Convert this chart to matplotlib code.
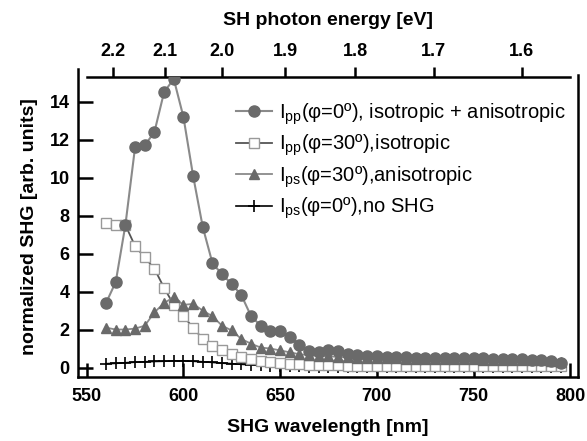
import numpy as np
import matplotlib
matplotlib.use("Agg")
import matplotlib.pyplot as plt

plt.rcParams['font.family'] = ['Liberation Sans', 'DejaVu Sans']
plt.rcParams['mathtext.default'] = 'regular'

# wavelengths [nm]
wl = np.arange(560, 800, 5)

# I_pp(phi=0), isotropic + anisotropic (filled circles)
ipp0 = [3.4, 4.5, 7.5, 11.6, 11.7, 12.4, 14.5, 15.2, 13.2, 10.1, 7.4, 5.5,
        4.9, 4.4, 3.8, 2.7, 2.2, 1.9, 1.9, 1.6, 1.2, 0.85,
        0.8, 0.9, 0.85, 0.7, 0.65, 0.6, 0.6, 0.55, 0.55, 0.55, 0.5, 0.5,
        0.5, 0.5, 0.5, 0.5, 0.5, 0.5, 0.45, 0.45, 0.45, 0.45, 0.4, 0.4,
        0.35, 0.25]

# I_pp(phi=30), isotropic (open squares)
ipp30 = [7.6, 7.5, 7.5, 6.4, 5.8, 5.2, 4.2, 3.3, 2.7, 2.1, 1.5, 1.15,
         0.9, 0.7, 0.55, 0.45, 0.35, 0.3, 0.25, 0.2, 0.2, 0.15,
         0.15, 0.12, 0.12, 0.1, 0.1, 0.1, 0.1, 0.1, 0.1, 0.1, 0.1, 0.1,
         0.1, 0.1, 0.1, 0.1, 0.1, 0.1, 0.1, 0.1, 0.1, 0.1, 0.1, 0.1,
         0.1, 0.1]

# I_ps(phi=30), anisotropic (filled triangles)
ips30 = [2.1, 2.0, 2.0, 2.05, 2.2, 2.9, 3.4, 3.7, 3.3, 3.35, 3.0, 2.7,
         2.2, 1.95, 1.5, 1.25, 1.05, 1.0, 0.9, 0.8, 0.7, 0.65,
         0.6, 0.6, 0.55, 0.55, 0.5, 0.5, 0.5, 0.5, 0.5, 0.45, 0.45, 0.45,
         0.45, 0.45, 0.45, 0.45, 0.45, 0.4, 0.4, 0.4, 0.4, 0.4, 0.4, 0.4,
         0.35, 0.3]

# I_ps(phi=0), no SHG (crosses)
ips0 = [0.2, 0.22, 0.25, 0.28, 0.3, 0.32, 0.33, 0.35, 0.35, 0.33, 0.3, 0.27,
        0.23, 0.2, 0.17, 0.14, 0.12, 0.1, 0.08, 0.07, 0.06, 0.05,
        0.05, 0.05, 0.05, 0.05, 0.05, 0.05, 0.05, 0.05, 0.05, 0.05, 0.05, 0.05,
        0.05, 0.05, 0.05, 0.05, 0.05, 0.05, 0.05, 0.05, 0.05, 0.05, 0.05, 0.05,
        0.05, 0.05]

labels = [r'I$_{pp}$(φ=0º), isotropic + anisotropic',
          r'I$_{pp}$(φ=30º),isotropic',
          r'I$_{ps}$(φ=30º),anisotropic',
          r'I$_{ps}$(φ=0º),no SHG']

xticks = [550, 600, 650, 700, 750, 800]
yticks = [0, 2, 4, 6, 8, 10, 12, 14]
eticks = [2.2, 2.1, 2.0, 1.9, 1.8, 1.7, 1.6]

fig = plt.figure(figsize=(5.87, 4.41), dpi=100)
ax = fig.add_axes([78/587, 64/441, 500/587, 300/441])

h1, = ax.plot(wl, ipp0, '-o', color='#8a8a8a', mfc='#6a6a6a', mec='#6a6a6a',
              ms=8, lw=1.5, zorder=5, label=labels[0])
h2, = ax.plot(wl, ipp30, '-s', color='#555555', mfc='white', mec='#999999',
              ms=7.5, mew=1.0, lw=1.3, zorder=3, label=labels[1])
h3, = ax.plot(wl, ips30, '-^', color='#8a8a8a', mfc='#6a6a6a', mec='#6a6a6a',
              ms=7.5, lw=1.3, zorder=4, label=labels[2])
h4, = ax.plot(wl, ips0, '-+', color='black', ms=9, mew=1.2, lw=1.2,
              zorder=2, label=labels[3])

ax.set_xlim(545.5, 804)
ax.set_ylim(-0.5, 15.3)
ax.set_xticks(xticks)
ax.set_yticks(yticks)

for s in ax.spines.values():
    s.set_linewidth(1.8)
ax.spines['top'].set_bounds(550, 800)
ax.spines['left'].set_bounds(-0.5, 15.7)
ax.spines['right'].set_bounds(-0.5, 15.4)

ax.tick_params(axis='x', direction='in', length=10, width=1.8, labelsize=13,
               pad=8, top=False)
ax.tick_params(axis='y', direction='in', length=11, width=1.8, labelsize=13,
               pad=6, right=False)
for t in ax.get_xticklabels() + ax.get_yticklabels():
    t.set_fontweight('bold')

ax.set_xlabel('SHG wavelength [nm]', fontsize=14, fontweight='bold', labelpad=10)
ax.set_ylabel('normalized SHG [arb. units]', fontsize=14, fontweight='bold',
              labelpad=8)

conv = lambda x: 1239.84 / np.asarray(x, dtype=float)
sec = ax.secondary_xaxis('top', functions=(conv, conv))
sec.set_xticks(eticks)
sec.set_xticklabels([f'{e:.1f}' for e in eticks])
sec.tick_params(direction='out', length=7, width=1.8, labelsize=13, pad=5)
for t in sec.get_xticklabels():
    t.set_fontweight('bold')
sec.spines['top'].set_visible(False)
sec.set_xlabel('SH photon energy [eV]', fontsize=14, fontweight='bold',
               labelpad=13)

leg = ax.legend(handles=[h1, h2, h3, h4], loc='upper right',
                bbox_to_anchor=(1.0, 0.96), frameon=False, fontsize=14.5,
                handlelength=1.8, handletextpad=0.35, labelspacing=0.3,
                borderaxespad=0.2)

fig.savefig('out.png', dpi=100)
